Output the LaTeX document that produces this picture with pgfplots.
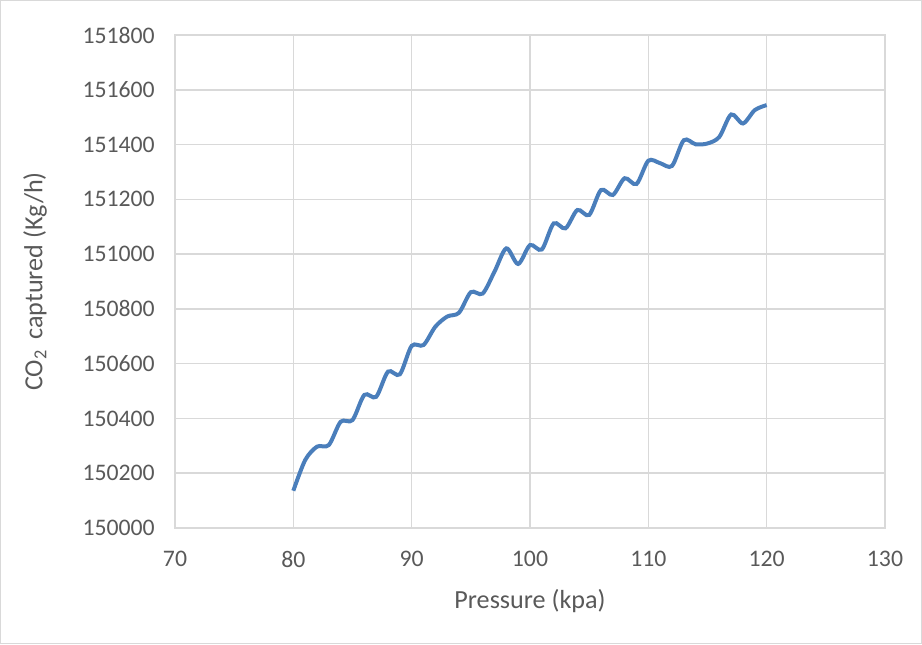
\documentclass[border=0pt]{standalone}
\usepackage{fontspec}
\setmainfont{Carlito}
\usepackage{pgfplots}
\pgfplotsset{compat=1.18}
\definecolor{gridc}{HTML}{D9D9D9}
\definecolor{txt}{HTML}{595959}
\definecolor{serie}{HTML}{4A7EBB}
\begin{document}
\begin{tikzpicture}
\useasboundingbox (0,0) rectangle (691.5pt,483pt);
\draw[gridc, line width=0.9pt] (0.45pt,0.45pt) rectangle (691.05pt,482.55pt);
\begin{axis}[
  at={(131.25pt,87pt)}, anchor=south west,
  scale only axis, width=532.5pt, height=369.75pt,
  xmin=70, xmax=130, ymin=150000, ymax=151800,
  xtick={70,80,...,130}, ytick={150000,150200,...,151800},
  scaled y ticks=false,
  grid=major, major grid style={gridc, line width=1.2pt},
  axis line style={gridc, line width=1.2pt},
  major tick length=0pt,
  /pgf/number format/assume math mode=true,
  /pgf/number format/1000 sep={},
  /pgf/number format/fixed,
  /pgf/number format/precision=0,
  tick label style={font=\fontsize{17.8}{20}\selectfont, text=txt},
  yticklabel style={anchor=east, inner sep=0pt, xshift=-15pt},
  xticklabel style={anchor=center, inner sep=0pt, yshift=-23.25pt},
  xlabel={Pressure (kpa)},
  xlabel style={at={(axis description cs:0.5,-0.1481)}, anchor=center, inner sep=0pt, font=\fontsize{19.6}{22}\selectfont, text=txt},
  ylabel={CO\textsubscript{2}\, captured (Kg/h)},
  ylabel style={at={(axis description cs:-0.1972,0.5)}, anchor=center, inner sep=0pt, font=\fontsize{19.6}{22}\selectfont, text=txt},
]
\addplot[serie, line width=3pt, smooth, no marks] coordinates {
(80,150136) (81,150248) (82,150297) (83,150303) (84,150388) (85,150394)
(86,150486) (87,150479) (88,150571) (89,150561) (90,150665) (91,150668)
(92,150735) (93,150772) (94,150786) (95,150861) (96,150856) (97,150936)
(98,151021) (99,150964) (100,151033) (101,151017) (102,151112) (103,151094)
(104,151161) (105,151143) (106,151234) (107,151216) (108,151277) (109,151256)
(110,151341) (111,151332) (112,151322) (113,151416) (114,151401) (115,151404)
(116,151428) (117,151510) (118,151477) (119,151526) (120,151544)
};
\end{axis}
\end{tikzpicture}
\end{document}
